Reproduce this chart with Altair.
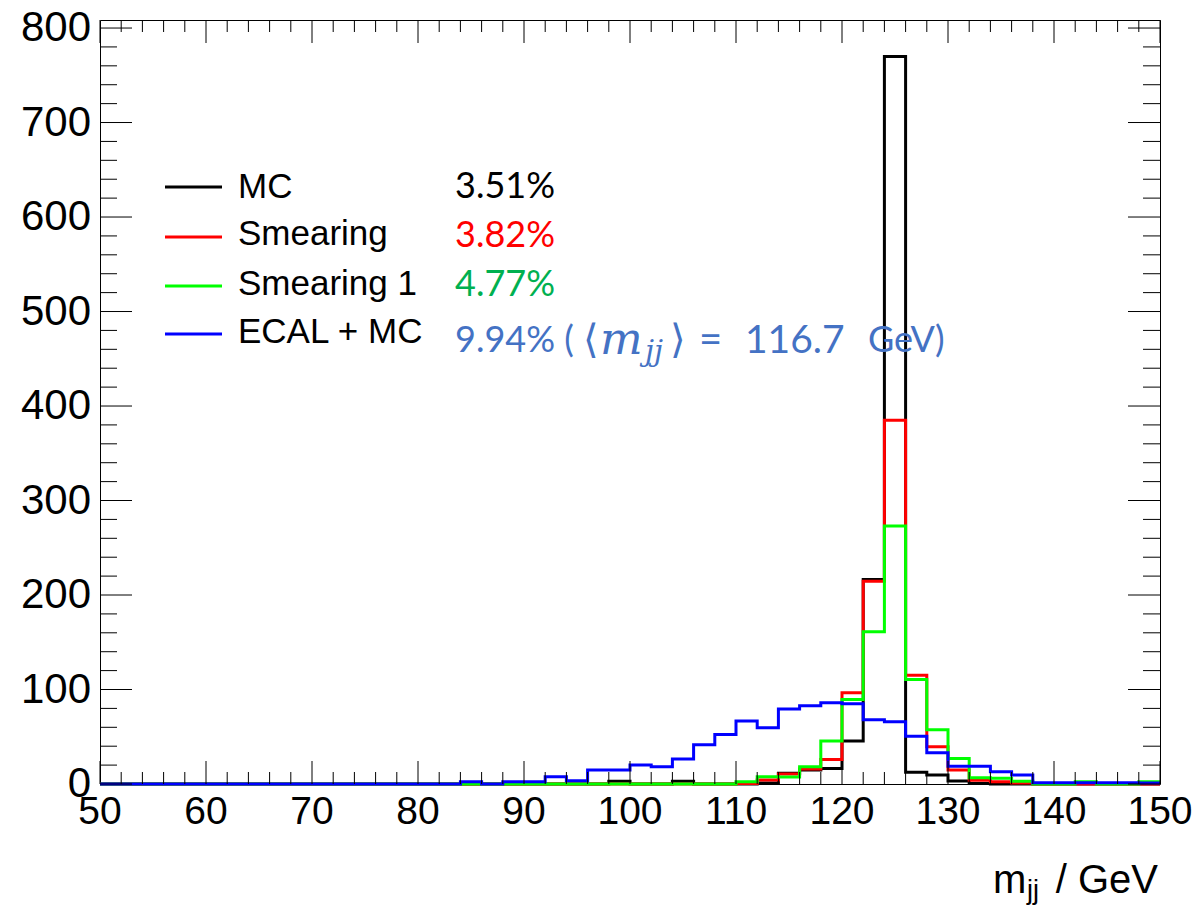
import altair as alt
import pandas as pd

# ---------------- data ----------------
bin_low = list(range(50, 150, 2))  # lower bin edges, 2 GeV bins
x_end = 150

mc = [0, 0, 0, 0, 0, 0, 0, 0, 0, 0,
      0, 0, 0, 0, 0, 0, 0, 0, 0, 0,
      0, 0, 0, 0, 3, 0, 0, 3, 0, 0,
      0, 1, 11.3, 14.8, 16.5, 45.5, 216.5, 770, 12.5, 9.5,
      3.2, 0.5, 0, 0, 0, 0, 0, 0, 0, 0]
smearing = [0, 0, 0, 0, 0, 0, 0, 0, 0, 0,
            0, 0, 0, 0, 0, 0, 0, 0, 0, 0,
            0, 0, 0, 0, 0, 0, 0, 0, 0, 0,
            0.5, 4.2, 10.5, 16, 26, 96.5, 214.5, 385, 115, 39.5,
            14.8, 4, 2.5, 1, 0, 0, 0, 0, 0, 0]
smearing1 = [0, 0, 0, 0, 0, 0, 0, 0, 0, 0,
             0, 0, 0, 0, 0, 0, 0, 0, 0, 0,
             0, 0, 0, 0, 0, 0, 0, 0, 0, 0,
             2.5, 7.8, 7.5, 18.3, 45.5, 89.5, 161, 273, 110.6, 57.5,
             27, 6.5, 6, 3, 0, 0, 2.5, 0, 0, 2.5]
ecal_mc = [0, 0, 0, 0, 0, 0, 0, 0, 0, 0,
           0, 0, 0, 0, 0, 0, 0, 2.5, 0, 2.5,
           2.5, 7.8, 3.5, 14.8, 14.8, 20, 18.3, 26.4, 41.5, 52.5,
           66.6, 59.5, 79.5, 82.8, 86, 85, 68, 66, 50.5, 33,
           18.7, 18.7, 13, 9.5, 1.4, 1.2, 1.2, 1.2, 1.2, 1]

series_names = ["MC", "Smearing", "Smearing 1", "ECAL + MC"]
series_values = [mc, smearing, smearing1, ecal_mc]
series_colors = ["#000000", "#ff0000", "#00ff00", "#0000ff"]
resolutions = ["3.51%", "3.82%", "4.77%", "9.94%"]
res_colors = ["#000000", "#ff0000", "#00b050", "#4472c4"]
mean_value = "116.7"

x_major = list(range(50, 151, 10))
x_minor = [v for v in range(52, 150, 2) if v % 10 != 0]
y_major = list(range(0, 801, 100))
y_minor = [v for v in range(20, 800, 20) if v % 100 != 0]

# ---------------- layout ----------------
W, H = 1060, 764
xs = alt.Scale(domain=[50, 150], nice=False, zero=False)
ys = alt.Scale(domain=[0, 808.5], nice=False)

layers = []

# histograms
for vals, col in zip(series_values, series_colors):
    df = pd.DataFrame({"m": bin_low + [x_end], "n": vals + [vals[-1]]})
    layers.append(
        alt.Chart(df).mark_line(interpolate="step-after", color=col, strokeWidth=3,
                                strokeJoin="miter", strokeCap="butt")
        .encode(x=alt.X("m:Q", scale=xs, axis=None),
                y=alt.Y("n:Q", scale=ys, axis=None))
    )

# inside ticks (ROOT style, all four sides)
def xticks(vals, length):
    d = pd.DataFrame({"t": vals})
    b = alt.Chart(d).mark_rule(color="black", strokeWidth=1).encode(
        x=alt.X("t:Q", scale=xs, axis=None), y=alt.value(H), y2=alt.value(H - length))
    t = alt.Chart(d).mark_rule(color="black", strokeWidth=1).encode(
        x=alt.X("t:Q", scale=xs, axis=None), y=alt.value(0), y2=alt.value(length))
    return [b, t]

def yticks(vals, length):
    d = pd.DataFrame({"t": vals})
    l = alt.Chart(d).mark_rule(color="black", strokeWidth=1).encode(
        y=alt.Y("t:Q", scale=ys, axis=None), x=alt.value(0), x2=alt.value(length))
    r = alt.Chart(d).mark_rule(color="black", strokeWidth=1).encode(
        y=alt.Y("t:Q", scale=ys, axis=None), x=alt.value(W), x2=alt.value(W - length))
    return [l, r]

layers += xticks(x_major, 23) + xticks(x_minor, 12)
layers += yticks(y_major, 32) + yticks(y_minor, 17)

# tick labels
xl = pd.DataFrame({"t": x_major})
layers.append(alt.Chart(xl).mark_text(align="center", baseline="middle",
                                      font="Liberation Sans", fontSize=39, color="black")
              .encode(x=alt.X("t:Q", scale=xs, axis=None), y=alt.value(H + 28),
                      text=alt.Text("t:Q", format="d")))
yl = pd.DataFrame({"t": y_major})
layers.append(alt.Chart(yl).mark_text(align="right", baseline="middle",
                                      font="Liberation Sans", fontSize=42, color="black")
              .encode(y=alt.Y("t:Q", scale=ys, axis=None), x=alt.value(-9),
                      text=alt.Text("t:Q", format="d")))

# legend
line_y = [167, 217, 266, 314]
text_y = [167, 214, 264, 312]
res_y = [167, 216, 265, 321]
for name, col, ly, ty in zip(series_names, series_colors, line_y, text_y):
    d = pd.DataFrame({"label": [name]})
    layers.append(alt.Chart(d).mark_rule(color=col, strokeWidth=3).encode(
        x=alt.value(65), x2=alt.value(122), y=alt.value(ly)))
    layers.append(alt.Chart(d).mark_text(align="left", baseline="middle",
                                         font="Liberation Sans", fontSize=35, color="black")
                  .encode(x=alt.value(138), y=alt.value(ty), text="label:N"))

# resolution annotations
for i, (r, col, ry) in enumerate(zip(resolutions, res_colors, res_y)):
    txt = r + " (" if i == 3 else r
    d = pd.DataFrame({"label": [txt]})
    layers.append(alt.Chart(d).mark_text(align="left", baseline="middle", font="Lato",
                                         fontSize=36, color=col)
                  .encode(x=alt.value(355), y=alt.value(ry), text="label:N"))

blue = res_colors[3]
pieces = [
    ("\u27e8", 483, 321, "DejaVu Sans", 40, "normal"),
    ("m", 500, 320, "DejaVu Serif", 45, "italic"),
    ("jj", 545, 332, "DejaVu Serif", 29, "italic"),
    ("\u27e9", 570, 321, "DejaVu Sans", 40, "normal"),
    ("=", 599, 321, "Lato", 40, "normal"),
    (mean_value, 645, 321, "Lato", 39, "normal"),
    ("GeV)", 768, 321, "Lato", 36, "normal"),
]
for txt, px, py, fnt, fs, sty in pieces:
    d = pd.DataFrame({"label": [txt]})
    layers.append(alt.Chart(d).mark_text(align="left", baseline="middle", font=fnt,
                                         fontSize=fs, fontStyle=sty, color=blue)
                  .encode(x=alt.value(px), y=alt.value(py), text="label:N"))

# x-axis title  m_jj / GeV
title_pieces = [
    ("m", 893, 873, 40, "left"),
    ("jj", 927, 879, 27, "left"),
    ("/ GeV", 1058, 873, 40, "right"),
]
for txt, px, py, fs, al in title_pieces:
    d = pd.DataFrame({"label": [txt]})
    layers.append(alt.Chart(d).mark_text(align=al, baseline="alphabetic",
                                         font="Liberation Sans", fontSize=fs, color="black")
                  .encode(x=alt.value(px), y=alt.value(py), text="label:N"))

chart = alt.layer(*layers).properties(
    width=W, height=H,
    autosize=alt.AutoSizeParams(type="none"),
    padding={"left": 92, "top": 12, "right": 33, "bottom": 124},
    background="white",
).configure_view(stroke="black", strokeWidth=1)

chart.save("out.html", embed_options={"renderer": "svg", "actions": False})
